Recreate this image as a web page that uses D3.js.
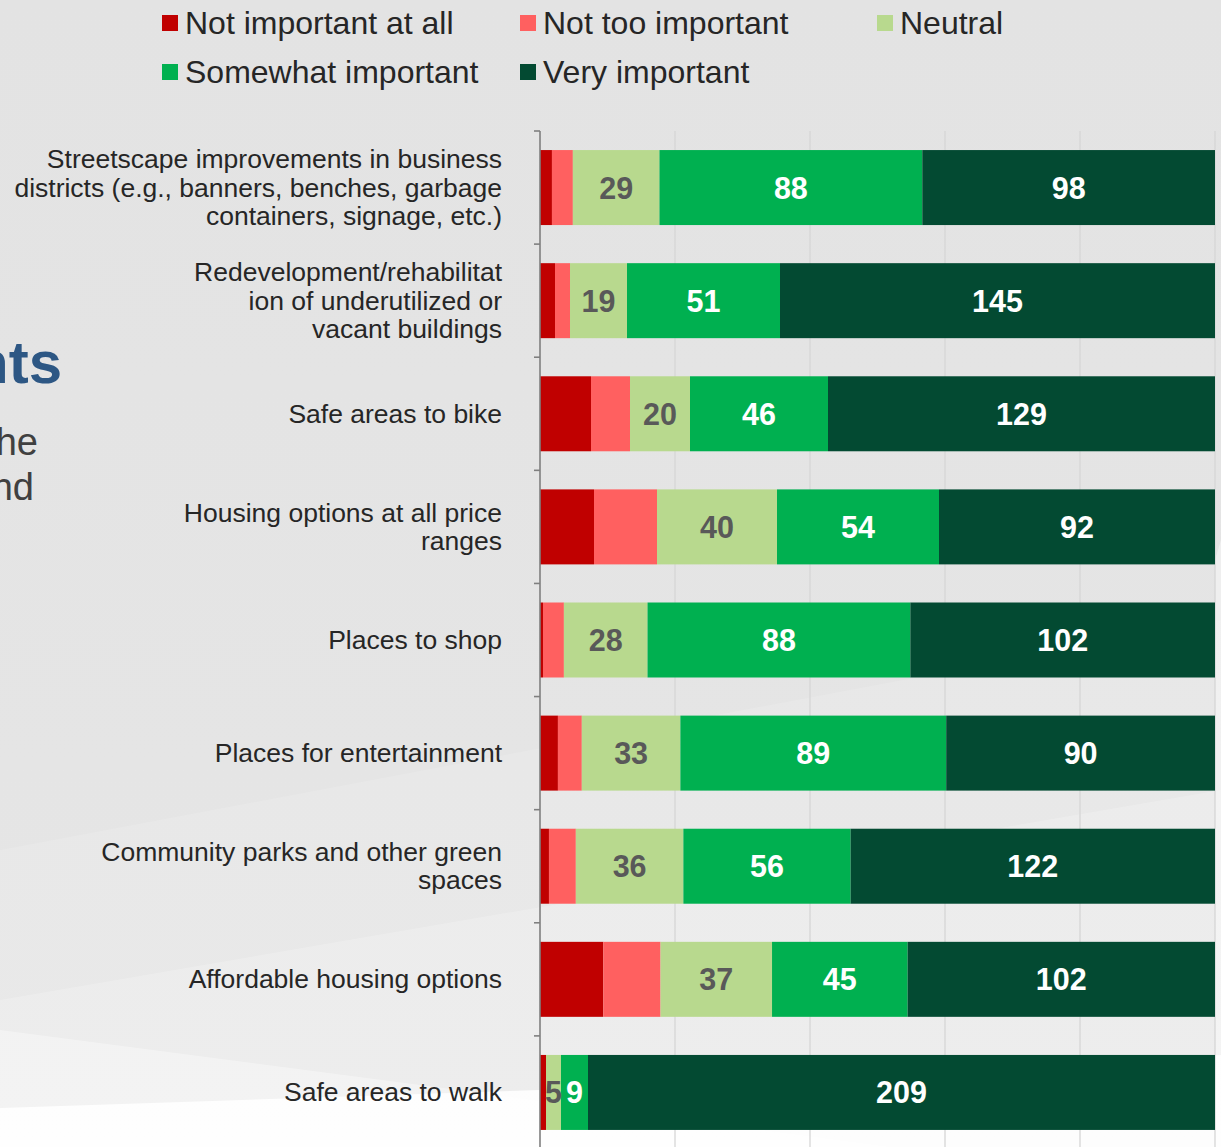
<!DOCTYPE html>
<html>
<head>
<meta charset="utf-8">
<script src="https://cdn.jsdelivr.net/npm/d3@7/dist/d3.min.js"></script>
<style>
  html, body { margin: 0; padding: 0; background: #e4e4e4; }
  svg { display: block; font-family: "Liberation Sans", Arial, sans-serif; }
</style>
</head>
<body>
<svg id="chart" width="1221" height="1147"></svg>
<script>
// ---- data ----
const categories = [
  "Streetscape improvements in business districts (e.g., banners, benches, garbage containers, signage, etc.)",
  "Redevelopment/rehabilitation of underutilized or vacant buildings",
  "Safe areas to bike",
  "Housing options at all price ranges",
  "Places to shop",
  "Places for entertainment",
  "Community parks and other green spaces",
  "Affordable housing options",
  "Safe areas to walk"
];
const categoryLines = [
  ["Streetscape improvements in business", "districts (e.g., banners, benches, garbage", "containers, signage, etc.)"],
  ["Redevelopment/rehabilitat", "ion of underutilized or", "vacant buildings"],
  ["Safe areas to bike"],
  ["Housing options at all price", "ranges"],
  ["Places to shop"],
  ["Places for entertainment"],
  ["Community parks and other green", "spaces"],
  ["Affordable housing options"],
  ["Safe areas to walk"]
];
const seriesNames = ["Not important at all", "Not too important", "Neutral", "Somewhat important", "Very important"];
const notImportantAtAll = [4, 5, 17, 18, 1, 6, 3, 21, 2];
const notTooImportant   = [7, 5, 13, 21, 7, 8, 9, 19, 0];
const neutral           = [29, 19, 20, 40, 28, 33, 36, 37, 5];
const somewhatImportant = [88, 51, 46, 54, 88, 89, 56, 45, 9];
const veryImportant     = [98, 145, 129, 92, 102, 90, 122, 102, 209];
const gridTicks = [0.2, 0.4, 0.6, 0.8, 1.0];
const labeledSeries = ["Neutral", "Somewhat important", "Very important"];

// ---- styles ----
const colors = ["#c00000", "#ff6060", "#b8d98e", "#00b050", "#034a32"];
const labelColors = {"Neutral": "#595959", "Somewhat important": "#ffffff", "Very important": "#ffffff"};

const svg = d3.select("#chart");
const W = 1221, H = 1147;

// ---- background ----
const defs = svg.append("defs");
const g1 = defs.append("linearGradient").attr("id", "bg").attr("x1", 0).attr("y1", 0).attr("x2", 0).attr("y2", 1);
g1.append("stop").attr("offset", "0").attr("stop-color", "#e3e3e3");
g1.append("stop").attr("offset", "1").attr("stop-color", "#e6e6e6");
svg.append("rect").attr("width", W).attr("height", H).attr("fill", "url(#bg)");
svg.append("polygon").attr("points", "0,850 1221,620 1221,1147 0,1147").attr("fill", "#ffffff").attr("opacity", 0.12);
svg.append("polygon").attr("points", "0,1000 1221,790 1221,1147 0,1147").attr("fill", "#ffffff").attr("opacity", 0.2);
svg.append("polygon").attr("points", "0,1030 1221,1190 0,1190").attr("fill", "#ffffff").attr("opacity", 0.35);
svg.append("polygon").attr("points", "0,1108 600,1088 1221,1055 1221,1147 0,1147").attr("fill", "#ffffff").attr("opacity", 0.85);
svg.append("polygon").attr("points", "1215,560 1221,540 1221,1147 1215,1147").attr("fill", "#ffffff").attr("opacity", 0.4);

// background slide text fragments (cut off at the left edge, as in the reference)
svg.append("text").attr("x", 62).attr("y", 383).attr("text-anchor", "end")
  .attr("font-size", 60).attr("font-weight", "bold").attr("fill", "#2d5784").text("nts");
svg.append("text").attr("x", 38).attr("y", 455).attr("text-anchor", "end")
  .attr("font-size", 38).attr("fill", "#404040").text("he");
svg.append("text").attr("x", 34).attr("y", 500).attr("text-anchor", "end")
  .attr("font-size", 38).attr("fill", "#404040").text("nd");

// ---- scales ----
const x0 = 540, x1 = 1215;
const x = d3.scaleLinear().domain([0, 1]).range([x0, x1]);
const y = d3.scaleBand().domain(categories).range([131, 1149]).paddingInner(0.337).paddingOuter(0.1685);
const step = y.step();

// gridlines
svg.append("g").selectAll("line").data(gridTicks).join("line")
  .attr("x1", d => x(d)).attr("x2", d => x(d))
  .attr("y1", 131).attr("y2", H)
  .attr("stroke", "#d6d6d6").attr("stroke-width", 1.3);

// stack
const rows = categories.map((c, i) => {
  const o = {category: c};
  o[seriesNames[0]] = notImportantAtAll[i];
  o[seriesNames[1]] = notTooImportant[i];
  o[seriesNames[2]] = neutral[i];
  o[seriesNames[3]] = somewhatImportant[i];
  o[seriesNames[4]] = veryImportant[i];
  return o;
});
const stack = d3.stack().keys(seriesNames).offset(d3.stackOffsetExpand);
const layers = stack(rows);

const gl = svg.append("g").selectAll("g").data(layers).join("g")
  .attr("fill", (d, i) => colors[i]);
gl.selectAll("rect").data(d => d).join("rect")
  .attr("x", d => x(d[0]))
  .attr("width", d => Math.max(0, x(d[1]) - x(d[0])))
  .attr("y", d => y(d.data.category))
  .attr("height", y.bandwidth());

// value labels
layers.forEach(layer => {
  if (!labeledSeries.includes(layer.key)) return;
  svg.append("g").selectAll("text").data(layer.filter(d => d.data[layer.key] > 0)).join("text")
    .attr("x", d => (x(d[0]) + x(d[1])) / 2)
    .attr("y", d => y(d.data.category) + y.bandwidth() / 2 + 11)
    .attr("text-anchor", "middle")
    .attr("font-size", 30.5).attr("font-weight", "bold")
    .attr("fill", labelColors[layer.key])
    .text(d => d.data[layer.key]);
});

// axis line and ticks
const tickYs = d3.range(categories.length + 1).map(k => y.range()[0] + k * step);
svg.append("line").attr("x1", x0).attr("x2", x0).attr("y1", 131).attr("y2", H)
  .attr("stroke", "#7f7f7f").attr("stroke-width", 1.6);
svg.append("g").selectAll("line").data(tickYs).join("line")
  .attr("x1", x0 - 6).attr("x2", x0).attr("y1", d => d).attr("y2", d => d)
  .attr("stroke", "#7f7f7f").attr("stroke-width", 1.6);

// category labels
const lineH = 28.5;
categories.forEach((c, i) => {
  const lines = categoryLines[i];
  const cy = y(c) + y.bandwidth() / 2;
  const t = svg.append("text").attr("text-anchor", "end").attr("font-size", 26.5).attr("fill", "#262626");
  lines.forEach((ln, j) => {
    t.append("tspan").attr("x", 502)
      .attr("y", cy + (j - (lines.length - 1) / 2) * lineH + 9)
      .text(ln);
  });
});

// legend
const legendPos = [[162, 23], [520, 23], [877, 23], [162, 72], [520, 72]];
const lg = svg.append("g").selectAll("g").data(seriesNames).join("g")
  .attr("transform", (d, i) => `translate(${legendPos[i][0]},${legendPos[i][1]})`);
lg.append("rect").attr("x", 0).attr("y", -8).attr("width", 16).attr("height", 16)
  .attr("fill", (d, i) => colors[i]);
lg.append("text").attr("x", 23).attr("y", 11).attr("font-size", 32).attr("fill", "#262626").text(d => d);
</script>
</body>
</html>
